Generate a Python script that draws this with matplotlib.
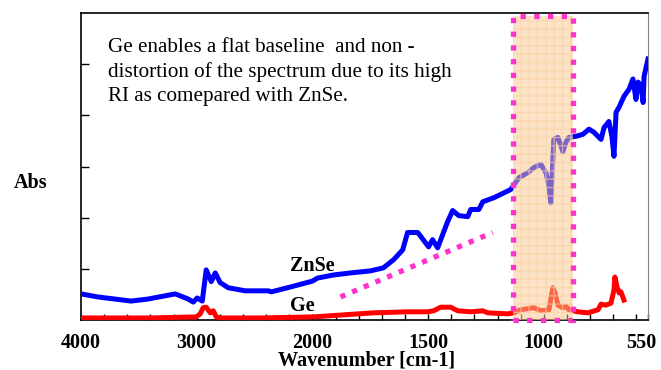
import numpy as np
import matplotlib
matplotlib.use("Agg")
import matplotlib.pyplot as plt
import matplotlib.transforms as mtransforms
from matplotlib.patches import Rectangle

# spectra (wavenumber cm-1, absorbance a.u.)
znse_wn = [4000, 3853, 3567, 3420, 3186, 3074, 3030, 2996, 2952, 2918, 2874, 2840,
           2797, 2727, 2580, 2381, 2355, 2182, 2000, 1978, 1909, 1835, 1749, 1693,
           1649, 1610, 1589, 1545, 1498, 1481, 1459, 1416, 1394, 1368, 1329, 1316,
           1281, 1264, 1216, 1143, 1108, 1069, 1043, 1013, 991, 978, 970, 957, 939,
           918, 905, 892, 861, 831, 805, 784, 753, 740, 719, 706, 697, 688, 675,
           654, 632, 615, 602, 593, 580, 571, 567, 550]
znse_abs = [0.51, 0.45, 0.37, 0.41, 0.51, 0.41, 0.35, 0.43, 0.37, 0.98, 0.75, 0.92,
            0.73, 0.63, 0.57, 0.57, 0.55, 0.65, 0.76, 0.82, 0.88, 0.92, 0.96, 1.02,
            1.18, 1.37, 1.71, 1.71, 1.43, 1.57, 1.41, 1.92, 2.14, 2.04, 2.02, 2.16,
            2.16, 2.31, 2.39, 2.55, 2.78, 2.88, 2.98, 3.04, 2.88, 2.61, 2.29, 3.53, 3.57,
            3.29, 3.47, 3.57, 3.59, 3.63, 3.73, 3.67, 3.53, 3.76, 3.88, 3.59, 3.20, 4.06, 4.16,
            4.37, 4.51, 4.71, 4.31, 4.65, 4.57, 4.25, 4.76, 5.10]

ge_wn = [4000, 3403, 3004, 2970, 2944, 2918, 2883, 2857, 2831, 2797, 2450, 2000,
         1736, 1589, 1502, 1476, 1446, 1403, 1372, 1316, 1264, 1242, 1156, 1130,
         1100, 1043, 1013, 978, 961, 952, 939, 918, 905, 892, 853, 810, 766, 753,
         732, 710, 697, 693, 684, 675, 667, 654]
ge_abs = [0.04, 0.04, 0.06, 0.12, 0.24, 0.25, 0.14, 0.18, 0.06, 0.04, 0.04, 0.06,
          0.14, 0.16, 0.16, 0.18, 0.25, 0.25, 0.18, 0.16, 0.18, 0.14, 0.12, 0.14,
          0.20, 0.24, 0.18, 0.20, 0.63, 0.53, 0.29, 0.24, 0.27, 0.20, 0.16, 0.14, 0.20, 0.31,
          0.29, 0.33, 0.59, 0.84, 0.65, 0.53, 0.55, 0.39]

xtick_vals = [4000, 3000, 2000, 1500, 1000, 550]
minor_vals = list(range(3800, 2000, -200)) + list(range(1900, 550, -100))

note = "Ge enables a flat baseline  and non -\ndistortion of the spectrum due to its high\nRI as comepared with ZnSe."

# highlighted window and the dotted guide line
box_wn = (1134, 874)
box_abs = (0.0, 5.94)
guide_wn = (1879, 1221)
guide_abs = (0.45, 1.71)

plt.rcParams["font.family"] = ["Liberation Serif", "DejaVu Serif"]


# spectrometer style axis: below 2000 cm-1 is stretched 2x
def fwd(w):
    w = np.asarray(w, dtype=float)
    return np.where(w < 2000, w - 2000, (w - 2000) / 2.0)


def inv(u):
    u = np.asarray(u, dtype=float)
    return np.where(u < 0, u + 2000, u * 2.0 + 2000)


fig = plt.figure(figsize=(6.61, 3.70), dpi=100)
ax = fig.add_axes([81 / 661, 50 / 370, 567 / 661, 307 / 370])
ax.set_xscale("function", functions=(fwd, inv))
ax.set_xlim(4000, 550)
ax.set_ylim(0, 6)

ax.plot(znse_wn, znse_abs, color="#0000ff", lw=3.6, solid_joinstyle="round", zorder=3)
ax.plot(ge_wn, ge_abs, color="#ff0000", lw=3.6, solid_joinstyle="round", zorder=3)

# translucent window over the lines
x0, x1 = box_wn
w, h = x1 - x0, box_abs[1] - box_abs[0]
ax.add_patch(Rectangle((x0, box_abs[0]), w, h, facecolor="#fbc890", alpha=0.5,
                       edgecolor="none", zorder=4))
ax.add_patch(Rectangle((x0, box_abs[0]), w, h, facecolor="none", edgecolor="#fbd0a0",
                       hatch="++", lw=0, alpha=0.6, zorder=4))
ax.add_patch(Rectangle((x0, box_abs[0]), w, h, facecolor="none", edgecolor="#ff33cc",
                       lw=3.8, linestyle=(0, (1, 1.6)), clip_on=False, zorder=5))
ax.plot(guide_wn, guide_abs, color="#ff33cc", lw=3.8, linestyle=(0, (1, 1.4)), zorder=5)

ax.set_xticks(xtick_vals)
ax.set_xticklabels([str(v) for v in xtick_vals], fontsize=14.5, fontweight="bold")
ax.set_xticks(minor_vals, minor=True)
ax.tick_params(axis="x", which="both", direction="in", length=4, width=1, pad=9)
# last label sits a bit inside like the original
last = ax.get_xticklabels()[-1]
last.set_transform(last.get_transform() + mtransforms.ScaledTranslation(-7 / 100, 0, fig.dpi_scale_trans))
ax.set_yticks([1, 2, 3, 4, 5])
ax.set_yticklabels([])
ax.tick_params(axis="y", direction="in", length=5.5, width=1)

for s in ["left", "bottom", "top"]:
    ax.spines[s].set_linewidth(1.2)
    ax.spines[s].set_color("black")
ax.spines["right"].set_color("#808080")

ax.text(0.048, 0.918, note, transform=ax.transAxes, fontsize=15.2, va="top",
        ha="left", linespacing=1.36)
ax.text(2190, 1.06, "ZnSe", fontsize=14.5, fontweight="bold", va="center")
ax.text(2190, 0.27, "Ge", fontsize=14.5, fontweight="bold", va="center")

fig.text(14 / 661, 1 - 183 / 370, "Abs", fontsize=14.5, fontweight="bold", va="center")
fig.text(367 / 661, 1 - 361 / 370, "Wavenumber [cm-1]", fontsize=14.5,
         fontweight="bold", va="center", ha="center")

fig.savefig("out.png", dpi=100)
